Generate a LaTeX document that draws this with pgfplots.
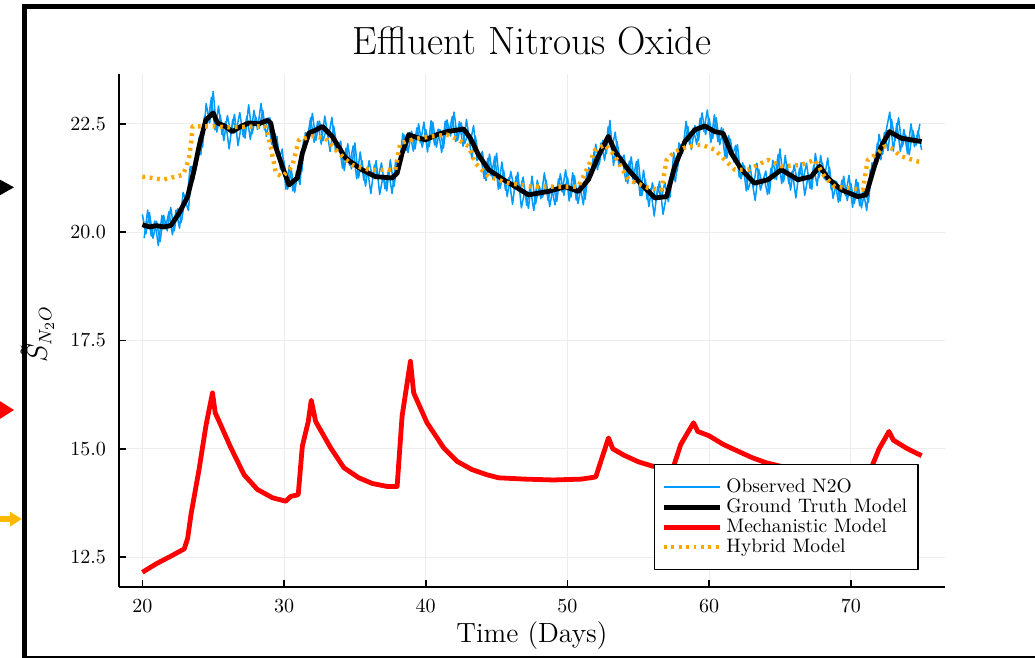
\documentclass[border=0pt]{standalone}
\usepackage{pgfplots}
\pgfplotsset{compat=1.18}
\definecolor{obsblue}{RGB}{0,154,250}
\definecolor{hyborange}{RGB}{255,165,0}
\definecolor{arrowgold}{RGB}{255,184,0}
\begin{document}
\begin{tikzpicture}
\useasboundingbox (-59.5pt,-35.5pt) rectangle (458pt,293.5pt);
% slide frame and pointer arrows (cropped)
\draw[line width=2.5pt] (-47pt,-40pt) -- (-47pt,290.25pt) -- (470pt,290.25pt);
\draw[line width=1pt] (-47pt,-35.2pt) -- (470pt,-35.2pt);
\fill[black] (-62pt,205pt) -- (-52.5pt,199.85pt) -- (-62pt,194.5pt) -- cycle;
\fill[red] (-62pt,94.5pt) -- (-52.5pt,88.5pt) -- (-62pt,82.5pt) -- cycle;
\fill[arrowgold] (-54.5pt,37.65pt) -- (-48.65pt,34pt) -- (-54.5pt,30.15pt) -- cycle;
\fill[arrowgold] (-62pt,32.5pt) rectangle (-54pt,35.5pt);
\begin{axis}[
    at={(0,0)}, anchor=south west,
    scale only axis, width=413pt, height=256.5pt,
    xmin=18.35, xmax=76.65, ymin=11.81, ymax=23.65,
    axis lines*=left,
    axis line style={line width=0.8pt},
    tick align=inside, major tick length=3.5pt,
    tick style={black, line width=0.8pt},
    xtick={20,30,40,50,60,70},
    ytick={12.5,15,17.5,20,22.5},
    yticklabel style={/pgf/number format/fixed, /pgf/number format/fixed zerofill,
        /pgf/number format/precision=1, xshift=-3pt},
    xticklabel style={yshift=-3pt},
    tick label style={font=\fontsize{10}{12}\selectfont},
    grid=major, grid style={gray!14, line width=0.5pt},
    title={Effluent Nitrous Oxide},
    title style={at={(axis description cs:0.5,1)}, anchor=base, yshift=3.5pt,
        font=\fontsize{19.7}{22}\selectfont},
    xlabel={Time (Days)},
    xlabel style={at={(axis description cs:0.5,0)}, anchor=center, yshift=-24.5pt,
        font=\fontsize{13.9}{16}\selectfont},
    ylabel={$\tilde{S}_{N_2O}$},
    ylabel style={at={(axis description cs:-0.0872,0.493)}, anchor=base,
        font=\fontsize{13.5}{16}\selectfont},
    legend style={at={(0.6477,0.033)}, anchor=south west,
        draw=black, line width=0.6pt, fill=white,
        font=\fontsize{9.75}{11}\selectfont,
        inner xsep=3.5pt, inner ysep=5pt, row sep=-2.3pt},
    legend cell align=left,
    legend image code/.code={\draw[#1] (0pt,0pt) -- (28pt,0pt);},
    line join=round,
]
\addplot[obsblue, line width=0.75pt] coordinates {
(20.00,20.41) (20.25,19.96) (20.50,20.45) (20.75,19.86) (21.00,20.25) (21.25,19.78) (21.50,20.39) (21.75,20.03)
(22.00,20.57) (22.25,20.03) (22.50,20.55) (22.75,20.23) (23.00,20.75) (23.25,20.50) (23.50,21.52) (23.75,21.51)
(24.00,22.19) (24.25,21.96) (24.50,22.97) (24.75,22.52) (25.00,23.25) (25.25,22.31) (25.50,22.70) (25.75,22.11)
(26.00,22.69) (26.25,22.27) (26.50,22.72) (26.75,22.00) (27.00,22.50) (27.25,22.17) (27.50,22.94) (27.75,22.27)
(28.00,22.66) (28.25,22.40) (28.50,22.81) (28.75,22.21) (29.00,22.64) (29.25,21.94) (29.50,22.21) (29.75,21.45)
(30.00,21.64) (30.25,20.99) (30.50,21.46) (30.75,20.92) (31.00,21.45) (31.25,21.39) (31.50,22.30) (31.75,22.18)
(32.00,22.74) (32.25,22.12) (32.50,22.56) (32.75,22.11) (33.00,22.39) (33.25,21.86) (33.50,22.45) (33.75,21.95)
(34.00,22.10) (34.25,21.42) (34.50,22.04) (34.75,21.46) (35.00,22.06) (35.25,21.25) (35.50,21.65) (35.75,21.06)
(36.00,21.65) (36.25,21.24) (36.50,21.65) (36.75,20.87) (37.00,21.32) (37.25,20.95) (37.50,21.67) (37.75,21.05)
(38.00,21.55) (38.25,21.60) (38.50,22.24) (38.75,21.84) (39.00,22.33) (39.25,21.92) (39.50,22.50) (39.75,21.96)
(40.00,22.37) (40.25,21.98) (40.50,22.54) (40.75,21.96) (41.00,22.37) (41.25,21.94) (41.50,22.59) (41.75,22.22)
(42.00,22.77) (42.25,22.12) (42.50,22.53) (42.75,22.04) (43.00,22.29) (43.25,21.70) (43.50,22.22) (43.75,21.70)
(44.00,21.86) (44.25,21.19) (44.50,21.80) (44.75,21.22) (45.00,21.82) (45.25,21.01) (45.50,21.42) (45.75,20.82)
(46.00,21.40) (46.25,20.99) (46.50,21.38) (46.75,20.56) (47.00,20.96) (47.25,20.55) (47.50,21.29) (47.75,20.65)
(48.00,21.06) (48.25,20.81) (48.50,21.20) (48.75,20.59) (49.00,21.07) (49.25,20.71) (49.50,21.35) (49.75,20.85)
(50.00,21.27) (50.25,20.81) (50.50,21.30) (50.75,20.66) (51.00,21.13) (51.25,20.76) (51.50,21.49) (51.75,21.31)
(52.00,22.03) (52.25,21.56) (52.50,22.12) (52.75,21.81) (53.00,22.58) (53.25,21.54) (53.50,22.09) (53.75,21.62)
(54.00,21.78) (54.25,21.12) (54.50,21.74) (54.75,21.12) (55.00,21.68) (55.25,20.84) (55.50,21.22) (55.75,20.59)
(56.00,21.14) (56.25,20.72) (56.50,21.17) (56.75,20.41) (57.00,20.87) (57.25,20.81) (57.50,21.84) (57.75,21.41)
(58.00,22.02) (58.25,21.95) (58.50,22.44) (58.75,21.91) (59.00,22.46) (59.25,22.11) (59.50,22.75) (59.75,22.25)
(60.00,22.63) (60.25,22.16) (60.50,22.64) (60.75,22.02) (61.00,22.38) (61.25,21.71) (61.50,22.15) (61.75,21.62)
(62.00,22.02) (62.25,21.23) (62.50,21.53) (62.75,20.98) (63.00,21.25) (63.25,20.73) (63.50,21.45) (63.75,21.11)
(64.00,21.41) (64.25,20.89) (64.50,21.66) (64.75,21.21) (65.00,21.92) (65.25,21.16) (65.50,21.57) (65.75,20.97)
(66.00,21.55) (66.25,21.14) (66.50,21.60) (66.75,20.85) (67.00,21.31) (67.25,20.99) (67.50,21.82) (67.75,21.26)
(68.00,21.59) (68.25,21.20) (68.50,21.49) (68.75,20.78) (69.00,21.17) (69.25,20.72) (69.50,21.29) (69.75,20.73)
(70.00,21.13) (70.25,20.66) (70.50,21.15) (70.75,20.56) (71.00,20.95) (71.25,20.69) (71.50,21.60) (71.75,21.49)
(72.00,22.26) (72.25,21.80) (72.50,22.35) (72.75,22.77) (73.00,21.87) (73.25,22.51) (73.50,21.86) (73.75,22.37)
(74.00,21.81) (74.25,22.50) (74.50,21.97) (74.75,22.34) (75.00,21.90)
};
\addlegendentry{Observed N2O}
% second half of the observed samples (between the ones above)
\addplot[obsblue, line width=0.75pt, forget plot] coordinates {
(20.125,19.86) (20.375,20.51) (20.625,19.91) (20.875,20.26) (21.125,19.69) (21.375,20.38) (21.625,20.08) (21.875,20.47)
(22.125,19.94) (22.375,20.51) (22.625,20.09) (22.875,20.92) (23.125,20.66) (23.375,21.51) (23.625,21.21) (23.875,21.86)
(24.125,21.79) (24.375,22.67) (24.625,22.54) (24.875,23.11) (25.125,22.36) (25.375,22.91) (25.625,22.25) (25.875,22.55)
(26.125,21.92) (26.375,22.60) (26.625,22.33) (26.875,22.76) (27.125,22.20) (27.375,22.68) (27.625,22.14) (27.875,22.81)
(28.125,22.37) (28.375,22.97) (28.625,22.36) (28.875,22.64) (29.125,22.03) (29.375,22.27) (29.625,21.66) (29.875,21.92)
(30.125,20.99) (30.375,21.54) (30.625,20.95) (30.875,21.40) (31.125,21.10) (31.375,22.14) (31.625,22.11) (31.875,22.64)
(32.125,22.07) (32.375,22.56) (32.625,22.03) (32.875,22.68) (33.125,22.16) (33.375,22.65) (33.625,21.89) (33.875,22.04)
(34.125,21.48) (34.375,21.94) (34.625,21.54) (34.875,21.99) (35.125,21.23) (35.375,21.85) (35.625,21.20) (35.875,21.50)
(36.125,20.89) (36.375,21.55) (36.625,21.23) (36.875,21.60) (37.125,21.00) (37.375,21.44) (37.625,20.89) (37.875,21.64)
(38.125,21.41) (38.375,22.28) (38.625,21.89) (38.875,22.30) (39.125,21.87) (39.375,22.41) (39.625,22.06) (39.875,22.54)
(40.125,21.85) (40.375,22.57) (40.625,22.01) (40.875,22.38) (41.125,21.84) (41.375,22.56) (41.625,22.28) (41.875,22.67)
(42.125,22.09) (42.375,22.55) (42.625,21.98) (42.875,22.60) (43.125,22.03) (43.375,22.46) (43.625,21.65) (43.875,21.79)
(44.125,21.24) (44.375,21.70) (44.625,21.30) (44.875,21.75) (45.125,20.99) (45.375,21.62) (45.625,20.97) (45.875,21.26)
(46.125,20.64) (46.375,21.29) (46.625,20.94) (46.875,21.27) (47.125,20.62) (47.375,21.05) (47.625,20.50) (47.875,21.20)
(48.125,20.77) (48.375,21.37) (48.625,20.74) (48.875,21.04) (49.125,20.63) (49.375,21.23) (49.625,20.93) (49.875,21.44)
(50.125,20.72) (50.375,21.37) (50.625,20.74) (50.875,21.11) (51.125,20.63) (51.375,21.42) (51.625,21.27) (51.875,21.85)
(52.125,21.44) (52.375,22.06) (52.625,21.66) (52.875,22.43) (53.125,21.90) (53.375,22.31) (53.625,21.55) (53.875,21.71)
(54.125,21.17) (54.375,21.64) (54.625,21.22) (54.875,21.63) (55.125,20.84) (55.375,21.43) (55.625,20.75) (55.875,21.01)
(56.125,20.37) (56.375,21.05) (56.625,20.76) (56.875,21.15) (57.125,20.70) (57.375,21.45) (57.625,21.16) (57.875,22.06)
(58.125,21.82) (58.375,22.56) (58.625,22.02) (58.875,22.40) (59.125,22.03) (59.375,22.63) (59.625,22.33) (59.875,22.82)
(60.125,22.07) (60.375,22.71) (60.625,22.09) (60.875,22.41) (61.125,21.73) (61.375,22.23) (61.625,21.76) (61.875,22.00)
(62.125,21.27) (62.375,21.60) (62.625,20.95) (62.875,21.55) (63.125,21.03) (63.375,21.59) (63.625,20.97) (63.875,21.27)
(64.125,20.87) (64.375,21.48) (64.625,21.23) (64.875,21.79) (65.125,21.12) (65.375,21.77) (65.625,21.12) (65.875,21.41)
(66.125,20.79) (66.375,21.47) (66.625,21.19) (66.875,21.59) (67.125,21.01) (67.375,21.53) (67.625,21.07) (67.875,21.77)
(68.125,21.23) (68.375,21.71) (68.625,20.98) (68.875,21.19) (69.125,20.69) (69.375,21.20) (69.625,20.84) (69.875,21.31)
(70.125,20.57) (70.375,21.22) (70.625,20.61) (70.875,20.97) (71.125,20.50) (71.375,21.44) (71.625,21.42) (71.875,22.05)
(72.125,21.67) (72.375,22.30) (72.625,21.88) (72.875,22.60) (73.125,22.11) (73.375,22.64) (73.625,21.97) (73.875,22.24)
(74.125,21.79) (74.375,22.35) (74.625,22.01) (74.875,22.50)
};
\addplot[black, line width=2.4pt] coordinates {
(20.00,20.17) (20.5,20.12) (21.0,20.15) (21.5,20.12) (22.0,20.15) (22.6,20.44) (23.19,20.82) (23.66,21.44)
(24.0,21.98) (24.48,22.59) (25.0,22.75) (25.3,22.52) (25.8,22.45) (26.36,22.32) (27.0,22.45) (27.54,22.52)
(28.2,22.50) (28.82,22.58) (29.06,22.52) (29.4,21.98) (29.88,21.51) (30.35,21.09) (30.94,21.25) (31.29,21.82)
(31.76,22.29) (32.2,22.35) (32.7,22.44) (33.4,22.21) (34.34,21.71) (35.5,21.44) (36.46,21.28) (37.63,21.25)
(37.98,21.36) (38.33,21.82) (38.8,22.25) (39.4,22.18) (39.98,22.13) (40.8,22.25) (41.5,22.32) (42.68,22.38)
(43.15,22.17) (43.73,21.78) (44.44,21.44) (45.49,21.21) (46.32,21.05) (47.25,20.86) (48.66,20.94) (49.84,21.05)
(50.77,20.94) (51.48,21.21) (52.18,21.75) (52.89,22.21) (53.36,21.86) (54.3,21.44) (55.25,21.09) (56.18,20.79)
(57.0,20.82) (57.58,21.52) (58.29,22.09) (58.99,22.36) (59.7,22.45) (60.4,22.32) (60.99,22.28) (61.57,21.82)
(62.3,21.44) (63.2,21.13) (64.15,21.21) (65.1,21.44) (66.27,21.21) (67.2,21.28) (67.8,21.52) (68.38,21.25)
(69.32,20.98) (70.49,20.82) (71.08,20.86) (71.67,21.52) (72.15,21.98) (72.73,22.32) (73.55,22.17) (74.26,22.13)
(75.0,22.09)
};
\addlegendentry{Ground Truth Model}
\addplot[red, line width=2.4pt] coordinates {
(20,12.15) (21,12.35) (22,12.52) (22.96,12.69) (23.2,12.94) (23.43,13.48) (24.0,14.52) (24.48,15.52)
(24.95,16.29) (25.14,15.83) (25.42,15.63) (26.25,15.02) (27.18,14.40) (28.12,14.06) (29.18,13.87) (30.12,13.79)
(30.47,13.90) (31.0,13.94) (31.29,15.06) (31.71,15.63) (31.92,16.12) (32.23,15.63) (33.29,15.02) (34.23,14.56)
(35.28,14.33) (36.22,14.20) (37.28,14.13) (37.98,14.13) (38.33,15.75) (38.92,17.02) (39.15,16.29) (40.09,15.60)
(41.27,15.02) (42.21,14.71) (43.26,14.52) (44.32,14.40) (45.14,14.33) (47,14.30) (49,14.28) (51,14.30)
(52,14.35) (52.4,14.75) (52.9,15.25) (53.2,15.0) (54,14.85) (55,14.7) (56,14.6) (57,14.55)
(57.5,14.6) (58,15.1) (58.9,15.6) (59.2,15.4) (60,15.3) (61,15.1) (62,14.95) (63,14.8)
(64,14.68) (65,14.6) (66,14.55) (67,14.5) (68,14.47) (69,14.45) (70,14.43) (71,14.42)
(71.5,14.6) (72,15.0) (72.7,15.4) (73,15.2) (74,15.0) (75,14.84)
};
\addlegendentry{Mechanistic Model}
\addplot[hyborange, line width=2.2pt, dash pattern=on 1.4pt off 2.3pt] coordinates {
(20,21.28) (20.7,21.25) (21.43,21.21) (22.2,21.27) (22.84,21.32) (23.1,21.5) (23.31,21.75) (23.45,22.1)
(23.54,22.44) (24.0,22.44) (25.19,22.44) (26,22.42) (27,22.43) (28,22.44) (28.7,22.44) (29.06,21.98)
(29.42,21.36) (29.88,21.28) (30.58,21.52) (31.05,22.13) (31.99,22.21) (32.93,22.17) (33.87,21.82) (34.8,21.55)
(35.99,21.44) (37.85,21.44) (38.2,22.05) (39.2,22.15) (40.44,22.21) (41.5,22.25) (42.32,22.13) (43.03,21.98)
(43.5,21.59) (44.44,21.28) (45.85,21.13) (47.5,21.05) (49.13,21.05) (50.77,21.05) (51.48,21.52) (51.95,21.9)
(52.66,22.02) (53.36,21.75) (54.3,21.21) (55.7,21.02) (56.64,20.98) (57.0,21.67) (57.58,21.86) (58.5,21.98)
(59.45,22.02) (60.4,21.9) (61.1,21.67) (61.81,21.44) (62.75,21.44) (64.15,21.67) (65.1,21.52) (66.5,21.55)
(67.45,21.67) (68.15,21.28) (68.86,21.05) (69.8,21.02) (70.85,20.98) (71.2,21.67) (71.9,21.82) (72.38,21.98)
(72.85,21.94) (73.55,21.75) (74.72,21.63) (75,21.62)
};
\addlegendentry{Hybrid Model}
\end{axis}
\end{tikzpicture}
\end{document}
